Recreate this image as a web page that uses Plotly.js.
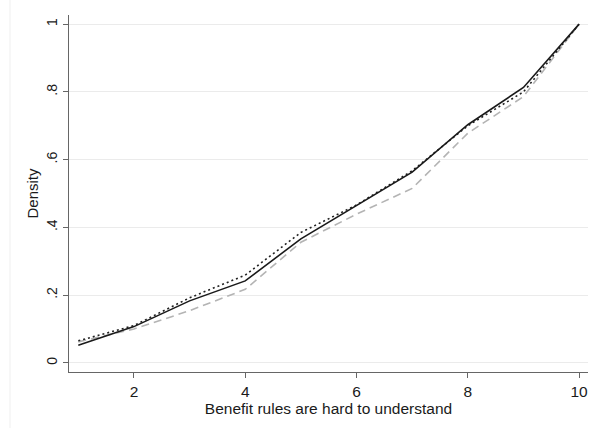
<!DOCTYPE html>
<html>
<head>
<meta charset="utf-8">
<script src="https://cdn.plot.ly/plotly-3.0.1.min.js"></script>
<style>html,body{margin:0;padding:0;background:#fff;}#chart{width:592px;height:428px;}</style>
</head>
<body>
<div id="chart"></div>
<script>
const xValues = [1, 2, 3, 4, 5, 6, 7, 8, 9, 10];
const solidSeries = [0.052, 0.107, 0.183, 0.242, 0.366, 0.464, 0.563, 0.703, 0.813, 1.0];
const dottedSeries = [0.065, 0.110, 0.192, 0.259, 0.385, 0.466, 0.567, 0.700, 0.800, 1.0];
const dashedSeries = [0.062, 0.100, 0.154, 0.217, 0.356, 0.439, 0.515, 0.678, 0.786, 1.0];
const yTickVals = [0, 0.2, 0.4, 0.6, 0.8, 1];
const yTickText = ["0", ".2", ".4", ".6", ".8", "1"];
const xTickVals = [2, 4, 6, 8, 10];

const traces = [
  {x: xValues, y: dashedSeries, mode: 'lines', line: {color: '#b4b4b4', width: 1.6, dash: '8px,5px'}},
  {x: xValues, y: dottedSeries, mode: 'lines', line: {color: '#222', width: 1.6, dash: '2px,3px'}},
  {x: xValues, y: solidSeries, mode: 'lines', line: {color: '#1a1a1a', width: 1.6}}
];

const fontFam = 'Liberation Sans, Arial, sans-serif';
const txtCol = '#1a1a1a';
const layout = {
  width: 592, height: 428,
  margin: {l: 69, r: 4, t: 15, b: 56},
  paper_bgcolor: '#fff', plot_bgcolor: '#fff',
  showlegend: false,
  font: {family: fontFam, size: 14, color: txtCol},
  xaxis: {
    range: [0.833, 10.16],
    tickvals: xTickVals,
    ticks: 'outside', ticklen: 5, tickcolor: '#666', tickwidth: 1,
    showline: true, linecolor: '#666', linewidth: 1,
    showgrid: false, zeroline: false,
    tickfont: {family: fontFam, size: 15.5, color: txtCol},
    title: {text: 'Benefit rules are hard to understand', font: {family: fontFam, size: 15.5, color: txtCol}, standoff: 0}
  },
  yaxis: {
    range: [-0.027, 1.027],
    tickvals: yTickVals, ticktext: yTickText,
    tickangle: -90,
    ticks: 'outside', ticklen: 5, tickcolor: '#666', tickwidth: 1,
    ticklabelstandoff: 0,
    showline: true, linecolor: '#666', linewidth: 1,
    showgrid: true, gridcolor: '#ebebeb', gridwidth: 1, zeroline: false,
    tickfont: {family: fontFam, size: 14, color: txtCol},
    title: {text: 'Density', font: {family: fontFam, size: 15, color: txtCol}, standoff: 2}
  },
  shapes: [
    {type: 'line', xref: 'paper', yref: 'paper', x0: -0.1137, x1: -0.1137, y0: -0.16, y1: 1.05, line: {color: '#efefef', width: 1}}
  ]
};

Plotly.newPlot('chart', traces, layout, {displayModeBar: false, staticPlot: true});
</script>
</body>
</html>
